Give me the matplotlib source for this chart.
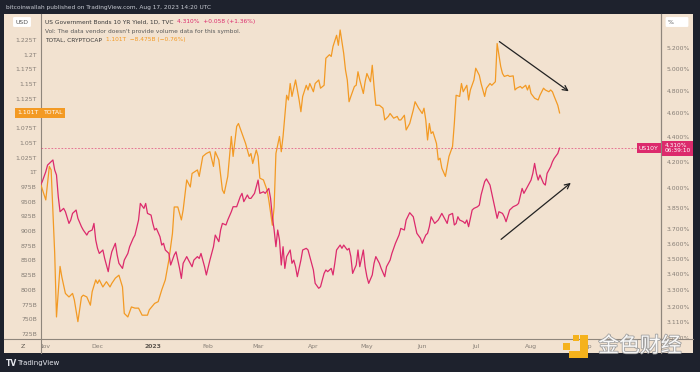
import numpy as np
import pandas as pd
import matplotlib
matplotlib.use("Agg")
from matplotlib import pyplot as plt
from matplotlib import transforms, ticker
from matplotlib import patheffects
from matplotlib.patches import Rectangle
from matplotlib.lines import Line2D

# days counted from 1 Nov 2022
start = pd.Timestamp("2022-11-01")

total_day = [-2, 1, 3, 4, 6, 7, 9, 10, 12, 14, 16, 17, 19, 21, 22, 24, 26, 27, 29, 30,
             31, 33, 35, 37, 38, 40, 42, 44, 45, 47, 49, 51, 53, 55, 58, 59, 62, 64, 66, 68,
             70, 72, 73, 75, 77, 78, 80, 82, 83, 86, 87, 89, 91, 93, 95, 96, 98, 100, 101, 103,
             105, 106, 108, 109, 111, 113, 115, 116, 117, 119, 120, 121, 123, 125, 126, 128, 129, 130, 132, 133,
             134, 136, 137, 138, 139, 141, 143, 144, 145, 147, 148, 149, 151, 152, 154, 155, 157, 158, 160, 161,
             162, 164, 165, 166, 168, 169, 170, 171, 172, 174, 175, 176, 177, 179, 180, 181, 183, 184, 185, 186,
             188, 190, 191, 193, 194, 196, 198, 199, 200, 202, 203, 205, 207, 208, 210, 212, 213, 214, 215, 216,
             217, 218, 220, 221, 222, 223, 225, 226, 227, 229, 230, 231, 233, 234, 235, 237, 238, 239, 241, 242,
             244, 245, 247, 248, 250, 251, 253, 254, 256, 257, 258, 260, 261, 263, 264, 265, 267, 268, 270, 271,
             272, 273, 275, 277, 278, 280, 281, 283, 284, 285, 286, 288, 289]
total_bn = [981, 953, 1010, 1004, 862, 754, 840, 822, 794, 788, 794, 783, 746, 788, 791, 788, 774, 797, 817, 811,
            817, 805, 814, 805, 811, 820, 825, 805, 760, 754, 771, 769, 769, 757, 757, 766, 777, 780, 800, 817,
            851, 896, 941, 941, 919, 936, 987, 975, 998, 1004, 993, 1027, 1032, 1035, 1010, 1035, 1021, 970, 964, 993,
            1061, 1027, 1078, 1083, 1066, 1049, 1027, 1032, 1015, 1038, 1027, 990, 987, 970, 953, 910, 941, 1032, 1061, 1035,
            1061, 1131, 1123, 1151, 1129, 1157, 1123, 1103, 1129, 1148, 1140, 1151, 1137, 1151, 1157, 1143, 1148, 1194, 1200, 1197,
            1214, 1233, 1216, 1242, 1202, 1174, 1157, 1120, 1129, 1146, 1148, 1171, 1157, 1134, 1154, 1168, 1154, 1182, 1146, 1114,
            1114, 1109, 1089, 1095, 1100, 1092, 1095, 1089, 1089, 1097, 1072, 1083, 1106, 1120, 1109, 1100, 1109, 1089, 1055, 1083,
            1066, 1069, 1049, 1021, 1024, 1007, 993, 1010, 1027, 1044, 1083, 1131, 1129, 1151, 1137, 1148, 1123, 1140, 1157, 1177,
            1165, 1151, 1129, 1143, 1151, 1148, 1154, 1219, 1180, 1168, 1163, 1165, 1163, 1164, 1140, 1143, 1146, 1143, 1148, 1140,
            1148, 1134, 1126, 1123, 1131, 1143, 1140, 1137, 1140, 1137, 1129, 1114, 1101]

yield_day = [-2, -1, 1, 2, 5, 6, 7, 8, 9, 11, 12, 14, 15, 16, 18, 19, 21, 22, 24, 25,
             27, 28, 29, 30, 31, 33, 34, 36, 37, 38, 40, 41, 42, 44, 45, 47, 48, 50, 51, 53,
             54, 56, 57, 58, 60, 61, 62, 63, 65, 66, 67, 68, 70, 71, 72, 73, 74, 76, 77, 78,
             80, 81, 83, 84, 86, 87, 88, 90, 91, 93, 95, 96, 98, 99, 100, 102, 103, 105, 106, 108,
             110, 111, 112, 114, 115, 116, 118, 119, 120, 121, 123, 124, 126, 127, 128, 129, 130, 131, 132, 133,
             134, 135, 136, 138, 139, 140, 141, 142, 144, 145, 147, 148, 149, 151, 152, 154, 155, 157, 158, 159,
             161, 162, 163, 164, 166, 167, 168, 170, 171, 172, 173, 175, 176, 177, 179, 180, 181, 182, 184, 185,
             186, 188, 189, 191, 192, 194, 195, 197, 199, 200, 202, 203, 205, 207, 208, 209, 211, 212, 214, 215,
             216, 217, 219, 220, 221, 222, 223, 225, 226, 227, 229, 230, 231, 232, 233, 235, 236, 237, 238, 240,
             241, 243, 244, 245, 247, 248, 250, 251, 252, 254, 255, 257, 258, 259, 261, 262, 263, 265, 266, 268,
             269, 270, 271, 273, 274, 275, 276, 277, 278, 280, 281, 282, 284, 285, 286, 288, 289]
yield_pct = [4.021, 4.047, 4.123, 4.175, 4.215, 4.136, 4.098, 3.934, 3.825, 3.849, 3.825, 3.742, 3.766, 3.813, 3.837, 3.778, 3.719, 3.696, 3.661, 3.684,
             3.696, 3.742, 3.627, 3.571, 3.537, 3.560, 3.504, 3.418, 3.493, 3.548, 3.605, 3.527, 3.472, 3.439, 3.493, 3.537, 3.582, 3.639, 3.661, 3.766,
             3.885, 3.849, 3.885, 3.813, 3.801, 3.742, 3.696, 3.707, 3.650, 3.593, 3.605, 3.560, 3.537, 3.461, 3.493, 3.527, 3.548, 3.439, 3.375, 3.472,
             3.516, 3.493, 3.450, 3.493, 3.516, 3.504, 3.537, 3.450, 3.397, 3.493, 3.582, 3.661, 3.616, 3.696, 3.742, 3.731, 3.766, 3.825, 3.861, 3.861,
             3.934, 3.959, 3.898, 3.947, 3.922, 3.922, 3.959, 4.009, 4.059, 3.959, 3.971, 3.959, 3.996, 3.922, 3.789, 3.696, 3.582, 3.696, 3.627, 3.461,
             3.582, 3.439, 3.516, 3.560, 3.472, 3.493, 3.450, 3.386, 3.493, 3.560, 3.571, 3.560, 3.516, 3.429, 3.344, 3.313, 3.323, 3.407, 3.429, 3.418,
             3.439, 3.397, 3.472, 3.560, 3.593, 3.571, 3.593, 3.560, 3.571, 3.516, 3.407, 3.461, 3.560, 3.450, 3.560, 3.450, 3.386, 3.344, 3.397, 3.472,
             3.516, 3.472, 3.439, 3.386, 3.450, 3.493, 3.537, 3.605, 3.661, 3.707, 3.696, 3.766, 3.818, 3.789, 3.731, 3.673, 3.639, 3.605, 3.661, 3.673,
             3.719, 3.789, 3.742, 3.754, 3.766, 3.789, 3.813, 3.766, 3.742, 3.801, 3.813, 3.731, 3.742, 3.789, 3.766, 3.754, 3.742, 3.766, 3.719, 3.837,
             3.849, 3.861, 3.873, 3.947, 4.047, 4.068, 4.021, 3.959, 3.898, 3.778, 3.825, 3.813, 3.789, 3.754, 3.837, 3.849, 3.861, 3.873, 3.885, 3.996,
             3.959, 3.984, 4.009, 4.059, 4.110, 4.188, 4.110, 4.059, 4.098, 4.034, 4.021, 4.110, 4.162, 4.201, 4.228, 4.267, 4.310]

left_ticks = [725, 750, 775, 800, 825, 850, 875, 900, 925, 950, 975, 1000, 1025, 1050, 1075, 1125, 1150, 1175, 1200, 1225]
left_labels = ["725B", "750B", "775B", "800B", "825B", "850B", "875B", "900B", "925B", "950B", "975B",
               "1T", "1.025T", "1.05T", "1.075T", "1.125T", "1.15T", "1.175T", "1.2T", "1.225T"]
right_ticks = [3.02, 3.11, 3.2, 3.3, 3.4, 3.5, 3.6, 3.7, 3.85, 4.0, 4.2, 4.4, 4.6, 4.8, 5.0, 5.2]
month_days = [0, 30, 61, 92, 120, 151, 181, 212, 242, 273, 304]
month_labels = ["Nov", "Dec", "2023", "Feb", "Mar", "Apr", "May", "Jun", "Jul", "Aug", "Sep"]

dark = "#1e222d"
beige = "#f2e2d0"
orange = "#f39a24"
pink = "#dc2a6c"
gray = "#857d75"
axis_line = "#8f867c"

W, H = 700, 372
def fx(px):
    return px / W
def fy(py):
    return 1 - py / H

fig = plt.figure(figsize=(7, 3.72), dpi=100, facecolor=dark)
fig.patches.append(Rectangle((fx(4), fy(353)), fx(689), 339 / H, transform=fig.transFigure,
                             facecolor=beige, edgecolor="none", zorder=-5))

ax = fig.add_axes([fx(41), fy(339), fx(620), 325 / H])
ax.patch.set_alpha(0)
t_dates = start + pd.to_timedelta(total_day, unit="D")
y_dates = start + pd.to_timedelta(yield_day, unit="D")

ax.plot(t_dates, total_bn, color=orange, lw=0.9, zorder=3)
ax.set_ylim(716.5, 1269.2)
ax.set_xlim(start + pd.Timedelta(days=-1.68), start + pd.Timedelta(days=345.85))
ax.set_yticks(left_ticks)
ax.set_yticklabels(left_labels)
ax.tick_params(axis="y", length=0, pad=3, labelsize=4.4, labelcolor=gray)
ax.set_xticks([start + pd.Timedelta(days=d) for d in month_days])
ax.set_xticklabels(month_labels)
ax.tick_params(axis="x", length=0, pad=3.5, labelsize=4.4, labelcolor=gray)
for lab in ax.get_xticklabels():
    if lab.get_text() == "2023":
        lab.set_fontweight("bold")
        lab.set_color("#5e5750")
for s in ["top", "bottom"]:
    ax.spines[s].set_visible(False)
ax.spines["left"].set_color(axis_line)
ax.spines["left"].set_linewidth(0.8)
ax.spines["right"].set_color(axis_line)
ax.spines["right"].set_linewidth(0.8)

ax2 = ax.twinx()
ax2.plot(y_dates, yield_pct, color=pink, lw=0.9, zorder=3)
ax2.set_yscale("log")
ax2.set_ylim(3.0124, 5.543)
ax2.set_yticks(right_ticks)
ax2.set_yticklabels(["%.3f%%" % v for v in right_ticks])
ax2.yaxis.set_minor_locator(ticker.NullLocator())
ax2.tick_params(axis="y", length=0, pad=4, labelsize=4.4, labelcolor=gray)
for s in ["top", "bottom", "left"]:
    ax2.spines[s].set_visible(False)
ax2.spines["right"].set_color(axis_line)
ax2.spines["right"].set_linewidth(0.8)

last_yield = yield_pct[-1]
last_total = total_bn[-1]
ax2.axhline(last_yield, color=pink, lw=0.6, ls=(0, (2, 2)), alpha=0.7, zorder=2)

# price labels
tl = transforms.blended_transform_factory(ax.transAxes, ax.transData)
ax.text(-0.004, last_total, "%.3fT" % (last_total / 1000), transform=tl, ha="right", va="center",
        fontsize=4.4, color="white", clip_on=False,
        bbox=dict(boxstyle="square,pad=0.45", fc=orange, ec="none"))
ax.text(0.004, last_total, "TOTAL", transform=tl, ha="left", va="center", fontsize=4.4, color="white",
        bbox=dict(boxstyle="square,pad=0.35", fc=orange, ec="none"))
tr = transforms.blended_transform_factory(ax2.transAxes, ax2.transData)
ax2.text(0.996, last_yield, "US10Y", transform=tr, ha="right", va="center", fontsize=4.4, color="white",
         bbox=dict(boxstyle="square,pad=0.35", fc=pink, ec="none"), zorder=6)
ax2.text(1.006, last_yield, "%.3f%%\n06:39:10" % last_yield, transform=tr, ha="left", va="center",
         fontsize=4.2, color="white", linespacing=1.1, clip_on=False,
         bbox=dict(boxstyle="square,pad=0.4", fc=pink, ec="none"), zorder=6)

# trend arrows
ax.annotate("", xy=(start + pd.Timedelta(days=295.4), 1135), xytext=(start + pd.Timedelta(days=254), 1225),
            arrowprops=dict(arrowstyle="->", color="#222222", lw=0.9, mutation_scale=9), zorder=5)
ax.annotate("", xy=(start + pd.Timedelta(days=296.5), 985), xytext=(start + pd.Timedelta(days=255), 883),
            arrowprops=dict(arrowstyle="->", color="#222222", lw=0.9, mutation_scale=9), zorder=5)

# frame lines
fig.lines.append(Line2D([fx(4), fx(693)], [fy(339), fy(339)], transform=fig.transFigure, color=axis_line, lw=0.8))
fig.lines.append(Line2D([fx(41), fx(41)], [fy(339), fy(353)], transform=fig.transFigure, color=axis_line, lw=0.8))
fig.lines.append(Line2D([fx(661), fx(661)], [fy(339), fy(353)], transform=fig.transFigure, color=axis_line, lw=0.8))
fig.patches.append(Rectangle((fx(4), fy(353)), fx(36.5), 13.5 / H, transform=fig.transFigure,
                             facecolor=beige, edgecolor="none", zorder=1))
fig.text(fx(23), fy(346), "Z", fontsize=4.6, color="#5e5750", ha="center", va="center")

# unit boxes
fig.text(fx(22), fy(22), "USD", fontsize=4.4, color="#555", ha="center", va="center",
         bbox=dict(boxstyle="round,pad=0.4,rounding_size=0.2", fc="white", ec="none"))
fig.text(fx(677), fy(22), "%      ", fontsize=4.4, color="#555", ha="center", va="center",
         bbox=dict(boxstyle="round,pad=0.4,rounding_size=0.2", fc="white", ec="none"))

# legend lines
x0 = fx(45)
fs = 4.2
t1 = fig.text(x0, fy(22), "US Government Bonds 10 YR Yield, 1D, TVC  ", fontsize=fs, color="#3a3a3a", va="center")
fig.canvas.draw()
bb = t1.get_window_extent()
fig.text(bb.x1 / fig.bbox.width, fy(22), "4.310%  +0.058 (+1.36%)", fontsize=fs, color=pink, va="center")
fig.text(x0, fy(31), "Vol: The data vendor doesn't provide volume data for this symbol.", fontsize=fs,
         color="#5a5a5a", va="center")
t3 = fig.text(x0, fy(40), "TOTAL, CRYPTOCAP  ", fontsize=fs, color="#3a3a3a", va="center")
fig.canvas.draw()
bb = t3.get_window_extent()
fig.text(bb.x1 / fig.bbox.width, fy(40), "1.101T  \u22128.475B (\u22120.76%)", fontsize=fs, color=orange, va="center")

# header and footer
fig.text(fx(6), fy(7), "bitcoinwallah published on TradingView.com, Aug 17, 2023 14:20 UTC",
         fontsize=4.25, color="#c8cbd3", va="center")
fig.text(fx(6), fy(363), "TV", fontsize=5.5, color="#e6e8ee", va="center", fontweight="bold")
fig.text(fx(17), fy(363), "TradingView", fontsize=5.0, color="#e6e8ee", va="center")

# watermark
logo = "#f5b21c"
for (x, y, w, h) in [(563, 343, 7, 7), (573, 335, 6, 6), (580, 335, 8, 23), (569, 351, 19, 7)]:
    fig.patches.append(Rectangle((fx(x), fy(y + h)), fx(w), h / H, transform=fig.transFigure,
                                 facecolor=logo, edgecolor="none", zorder=3))
fig.text(fx(640), fy(346), "金色财经", fontsize=15, color="white", alpha=0.92, ha="center", va="center",
         family=["Noto Sans CJK SC", "DejaVu Sans"], zorder=4,
         path_effects=[patheffects.withStroke(linewidth=1.2, foreground="#9a9a9a")])

fig.savefig("out.png", dpi=100, facecolor=dark)
